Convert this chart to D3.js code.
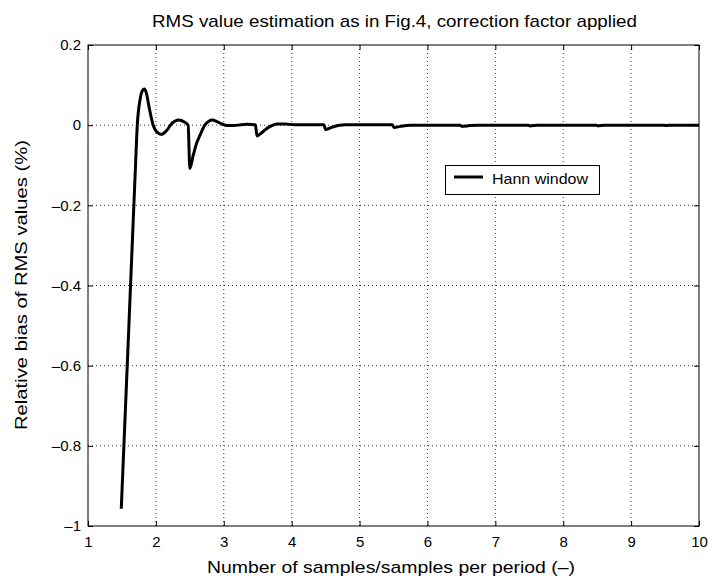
<!DOCTYPE html>
<html><head><meta charset="utf-8">
<script src="https://cdn.jsdelivr.net/npm/d3@7"></script>
<style>body{margin:0;background:#fff}svg{display:block}text{font-family:"Liberation Sans",Arial,sans-serif}</style>
</head><body><svg id="c" width="710" height="578"></svg>
<script>
const title = "RMS value estimation as in Fig.4, correction factor applied";
const xLabel = "Number of samples/samples per period (–)";
const yLabel = "Relative bias of RMS values (%)";
const seriesName = "Hann window";
const xTicks = [1,2,3,4,5,6,7,8,9,10];
const yTicks = [0.2,0,-0.2,-0.4,-0.6,-0.8,-1];
const xs = [1.49,1.60,1.70,1.726,1.766,1.80,1.83,1.86,1.90,1.96,2.02,2.085,2.15,2.24,2.33,2.42,2.475,2.50,2.55,2.60,2.65,2.72,2.78,2.83,2.90,2.97,3.05,3.15,3.25,3.35,3.465,3.49,3.55,3.62,3.70,3.78,3.90,4.05,4.30,4.475,4.50,4.58,4.68,4.80,5.00,5.48,5.51,5.60,5.75,6.48,6.51,6.62,6.75,7.49,7.51,7.62,8.49,8.51,8.60,9.49,9.51,9.60,10];
const ys = [-0.957,-0.51,-0.10,0.0,0.063,0.086,0.090,0.08,0.045,0.0,-0.018,-0.023,-0.015,0.005,0.013,0.008,0.0,-0.108,-0.075,-0.045,-0.025,0.0,0.01,0.013,0.009,0.003,-0.001,-0.001,0.001,0.002,0.001,-0.027,-0.02,-0.01,-0.002,0.003,0.003,0.001,0.001,0.001,-0.011,-0.006,-0.001,0.001,0.001,0.001,-0.006,-0.003,0.0,0.0,-0.003,-0.001,0.0,0.0,-0.002,0.0,0.0,-0.0015,0.0,0.0,-0.001,0.0,0.0];

const svg = d3.select("#c");
const L=88,R=699,T=45,B=526;
const x = d3.scaleLinear().domain([1,10]).range([L,R]);
const y = d3.scaleLinear().domain([-1,0.2]).range([B,T]);
const fmt = d => d===0 ? "0" : (d<0 ? "–"+String(Math.abs(d)) : String(d));

// grid
const g = svg.append("g");
g.selectAll(".vg").data(xTicks.slice(1,-1)).join("line")
 .attr("x1",d=>x(d)).attr("x2",d=>x(d)).attr("y1",T).attr("y2",B)
 .attr("stroke","#333").attr("stroke-width",1).attr("stroke-dasharray","1,3");
g.selectAll(".hg").data(yTicks.slice(1,-1)).join("line")
 .attr("y1",d=>y(d)).attr("y2",d=>y(d)).attr("x1",L).attr("x2",R)
 .attr("stroke","#333").attr("stroke-width",1).attr("stroke-dasharray","1,3");

// axes (inward ticks on all sides)
const tl=5;
svg.append("g").attr("transform",`translate(0,${B})`)
 .call(d3.axisBottom(x).tickValues(xTicks).tickSizeInner(-tl).tickSizeOuter(0).tickPadding(10).tickFormat(d3.format("d")))
 .call(a=>{a.select(".domain").remove();a.selectAll("text").attr("font-size",15).attr("fill","#000");});
svg.append("g").attr("transform",`translate(0,${T})`)
 .call(d3.axisTop(x).tickValues(xTicks).tickSizeInner(-tl).tickSizeOuter(0).tickFormat(""))
 .call(a=>a.select(".domain").remove());
svg.append("g").attr("transform",`translate(${L},0)`)
 .call(d3.axisLeft(y).tickValues(yTicks).tickSizeInner(-tl).tickSizeOuter(0).tickPadding(7).tickFormat(fmt))
 .call(a=>{a.select(".domain").remove();a.selectAll("text").attr("font-size",15).attr("fill","#000");});
svg.append("g").attr("transform",`translate(${R},0)`)
 .call(d3.axisRight(y).tickValues(yTicks).tickSizeInner(-tl).tickSizeOuter(0).tickFormat(""))
 .call(a=>a.select(".domain").remove());
svg.append("rect").attr("x",L).attr("y",T).attr("width",R-L).attr("height",B-T)
 .attr("fill","none").attr("stroke","#000").attr("stroke-width",1);

// line
const pts = xs.map((v,i)=>[v,ys[i]]);
svg.append("path").datum(pts)
 .attr("d",d3.line().x(d=>x(d[0])).y(d=>y(d[1])).curve(d3.curveMonotoneX))
 .attr("fill","none").attr("stroke","#000").attr("stroke-width",3).attr("stroke-linejoin","round");

// legend
const lg = svg.append("g");
lg.append("rect").attr("x",445.5).attr("y",165.5).attr("width",154).attr("height",29)
 .attr("fill","#fff").attr("stroke","#000").attr("stroke-width",1);
lg.append("line").attr("x1",454).attr("x2",483).attr("y1",177).attr("y2",177)
 .attr("stroke","#000").attr("stroke-width",3);
lg.append("text").attr("x",492).attr("y",184).attr("font-size",15).attr("textLength",96).attr("lengthAdjust","spacingAndGlyphs").text(seriesName);

// titles
svg.append("text").attr("x",152).attr("y",27).attr("font-size",17).attr("textLength",485).attr("lengthAdjust","spacingAndGlyphs").text(title);
svg.append("text").attr("x",207).attr("y",573).attr("font-size",17).attr("textLength",368).attr("lengthAdjust","spacingAndGlyphs").text(xLabel);
svg.append("text").attr("transform","translate(27,430) rotate(-90)").attr("font-size",17).attr("textLength",290).attr("lengthAdjust","spacingAndGlyphs").text(yLabel);
</script></body></html>
